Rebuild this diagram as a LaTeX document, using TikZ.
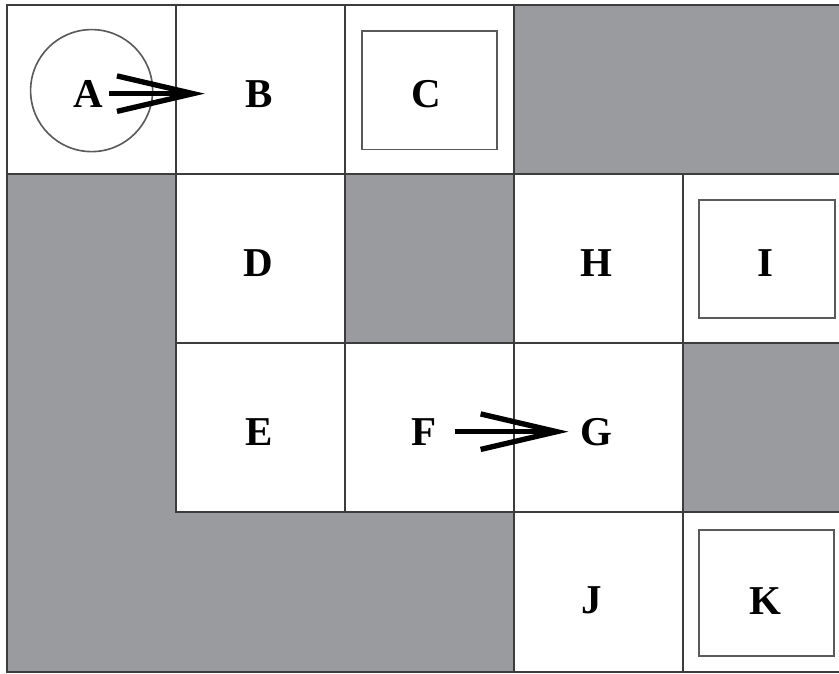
\documentclass[tikz,border=0pt]{standalone}
\usepackage{fontspec}
\setmainfont{Liberation Serif}
\usetikzlibrary{arrows.meta}
\definecolor{wallgray}{RGB}{154,155,159}
\definecolor{linegray}{RGB}{60,60,60}
\definecolor{boxgray}{RGB}{90,90,90}

\begin{document}
\begin{tikzpicture}[x=2cm, y=2cm,
    cellline/.style={draw=linegray, line width=0.7pt},
    goal/.style={draw=boxgray, line width=0.55pt},
    lbl/.style={inner sep=0pt, font=\fontsize{13.8}{16}\selectfont\bfseries},
    move/.style={-{Straight Barb[length=0.9cm, width=0.42cm]}, line width=1.8pt}]
    \useasboundingbox (-0.041,0.030) rectangle (4.923,-3.953);
    % walls
    \fill[wallgray] (3,0) rectangle (5,-1);
    \fill[wallgray] (2,-1) rectangle (3,-2);
    \fill[wallgray] (4,-2) rectangle (5,-3);
    \fill[wallgray] (0,-1) -- (1,-1) -- (1,-3) -- (3,-3) -- (3,-3.947) -- (0,-3.947) -- cycle;
    % open cells
    \foreach \c/\r in {0/0, 1/0, 2/0, 1/1, 3/1, 4/1, 1/2, 2/2, 3/2}
      \draw[cellline] (\c,-\r) rectangle ++(1,-1);
    \draw[cellline] (3,-3) rectangle (4,-3.947);
    \draw[cellline] (4,-3) rectangle (5,-3.947);
    \draw[cellline] (5,0) -- (0,0) -- (0,-3.947) -- (5,-3.947);
    % start circle and goal boxes
    \draw[goal] (0.501,-0.506) circle (0.361);
    \draw[goal] (2.099,-0.154) rectangle (2.901,-0.854);
    \draw[goal] (4.095,-1.154) rectangle (4.899,-1.852);
    \draw[goal] (4.095,-3.107) rectangle (4.893,-3.852);
    % cell names
    \foreach \n/\x/\y in {A/0.48/0, B/1.49/0, C/2.48/0, D/1.49/1, H/3.49/1, I/4.49/1,
                          E/1.49/2, F/2.47/2, G/3.49/2, J/3.46/3, K/4.49/3}
      \node[lbl] (\n) at (\x,-\y-0.524) {\n};
    % moves
    \draw[move, shorten <=0.07cm, shorten >=0.47cm] (A) -- (B);
    \draw[move, shorten <=0.21cm, shorten >=0.14cm] (F) -- (G);
\end{tikzpicture}
\end{document}
